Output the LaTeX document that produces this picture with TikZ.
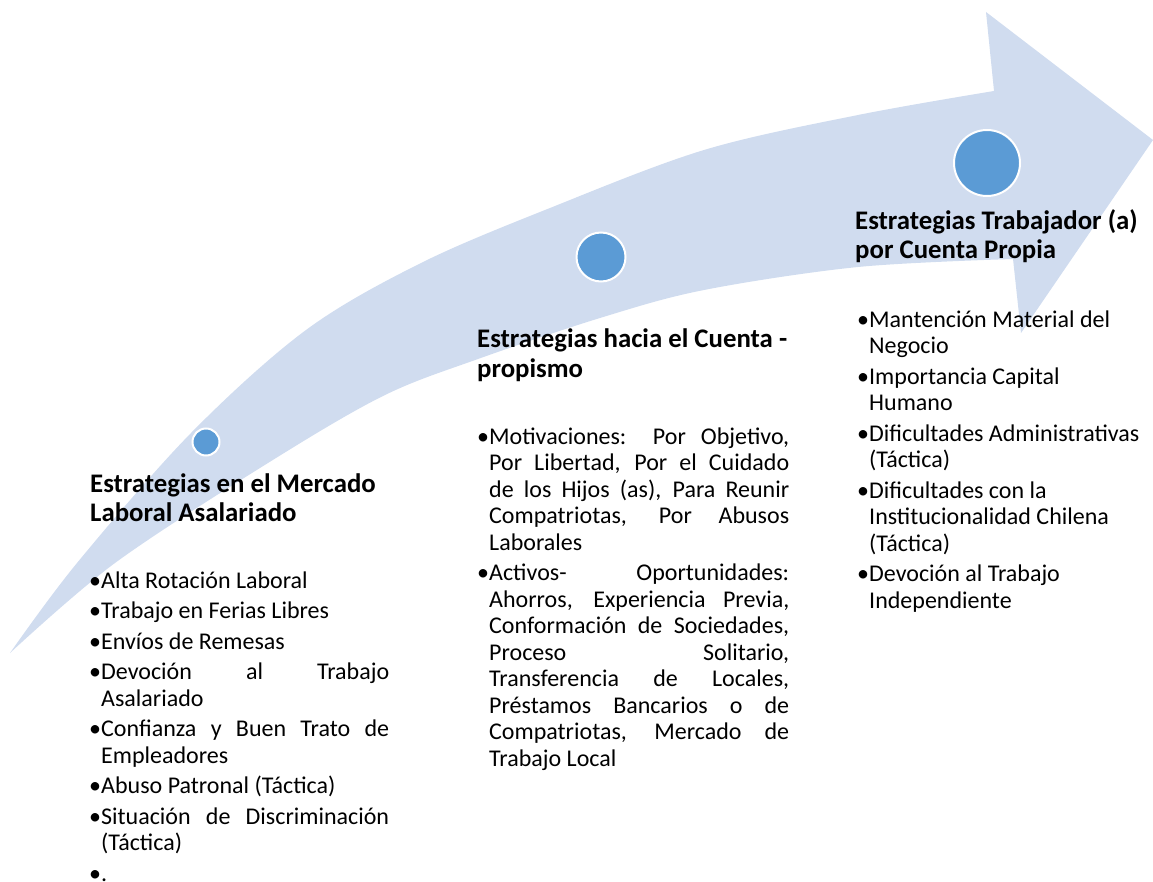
\documentclass[tikz,border=0pt]{standalone}
\usepackage{fontspec}
\setmainfont{Carlito}
\definecolor{bandblue}{HTML}{D0DCEF}
\definecolor{dotblue}{HTML}{5B9BD5}
\newlength\colw
\newcommand\bw{12pt}
\newcommand\fj[1]{\hbox to \colw{\hbox to \bw{•\hss}\spaceskip=.22em plus 1fil\relax #1}}
\newcommand\fl[1]{\hbox{\hbox to \bw{•\hss}#1}}
\newcommand\cj[1]{\hbox to \colw{\hskip\bw\spaceskip=.22em plus 1fil\relax #1}}
\newcommand\cl[1]{\hbox{\hskip\bw #1}}
\newcommand\gap{\vskip 4pt}
\tikzset{
  band/.style={fill=bandblue},
  dot/.style={circle, fill=dotblue, draw=white, line width=2pt, inner sep=0pt},
  head/.style={anchor=base west, inner sep=0pt, font=\fontsize{26.8}{29}\selectfont\bfseries},
  body/.style={anchor=base west, inner sep=0pt, font=\fontsize{24}{26.5}\selectfont},
}
\begin{document}
\begin{tikzpicture}[x=1pt,y=-1pt]
\useasboundingbox (0,0) rectangle (1153,882);
% curved arrow
\fill[band] plot[smooth, tension=0.55] coordinates {(10,653) (77,563) (191,433) (306,330) (421,263) (550,208) (704,150) (858,115) (994,91)}
  -- (986,12) -- (1153,140) -- (1021,333) -- (1013,259)
  -- plot[smooth, tension=0.55] coordinates {(1013,259) (858,267) (704,290) (600,318) (478,359) (383,396) (268,463) (115,563) (10,653)} -- cycle;
% circles
\node[dot, minimum size=27pt] (c1) at (206,442) {};
\node[dot, minimum size=49pt] (c2) at (601,257) {};
\node[dot, minimum size=66pt] (c3) at (987,163) {};
% headings
\node[head] (h1) at (90,492) {\vtop{\hbox{Estrategias en el Mercado}\hbox{Laboral Asalariado}}};
\node[head] (h2) at (477,348) {\vtop{\hbox{Estrategias hacia el Cuenta -}\hbox{propismo}}};
\node[head] (h3) at (855,230) {\vtop{\hbox{Estrategias Trabajador (a)}\hbox{por Cuenta Propia}}};
% lists
\node[body] (l1) at (89,588) {\vtop{\setlength\colw{300pt}%
  \fl{Alta Rotación Laboral}\gap
  \fl{Trabajo en Ferias Libres}\gap
  \fl{Envíos de Remesas}\gap
  \fj{Devoción al Trabajo}\cl{Asalariado}\gap
  \fj{Confianza y Buen Trato de}\cl{Empleadores}\gap
  \fl{Abuso Patronal (Táctica)}\gap
  \fj{Situación de Discriminación}\cl{(Táctica)}\gap
  \fl{.}}};
\node[body] (l2) at (477,444) {\vtop{\setlength\colw{312pt}%
  \fj{Motivaciones: Por Objetivo,}\cj{Por Libertad, Por el Cuidado}\cj{de los Hijos (as), Para Reunir}\cj{Compatriotas, Por Abusos}\cl{Laborales}\gap
  \fj{Activos- Oportunidades:}\cj{Ahorros, Experiencia Previa,}\cj{Conformación de Sociedades,}\cj{Proceso Solitario,}\cj{Transferencia de Locales,}\cj{Préstamos Bancarios o de}\cj{Compatriotas, Mercado de}\cl{Trabajo Local}}};
\node[body] (l3) at (857,327) {\vtop{%
  \fl{Mantención Material del}\cl{Negocio}\gap
  \fl{Importancia Capital}\cl{Humano}\gap
  \fl{Dificultades Administrativas}\cl{(Táctica)}\gap
  \fl{Dificultades con la}\cl{Institucionalidad Chilena}\cl{(Táctica)}\gap
  \fl{Devoción al Trabajo}\cl{Independiente}}};
\end{tikzpicture}
\end{document}
